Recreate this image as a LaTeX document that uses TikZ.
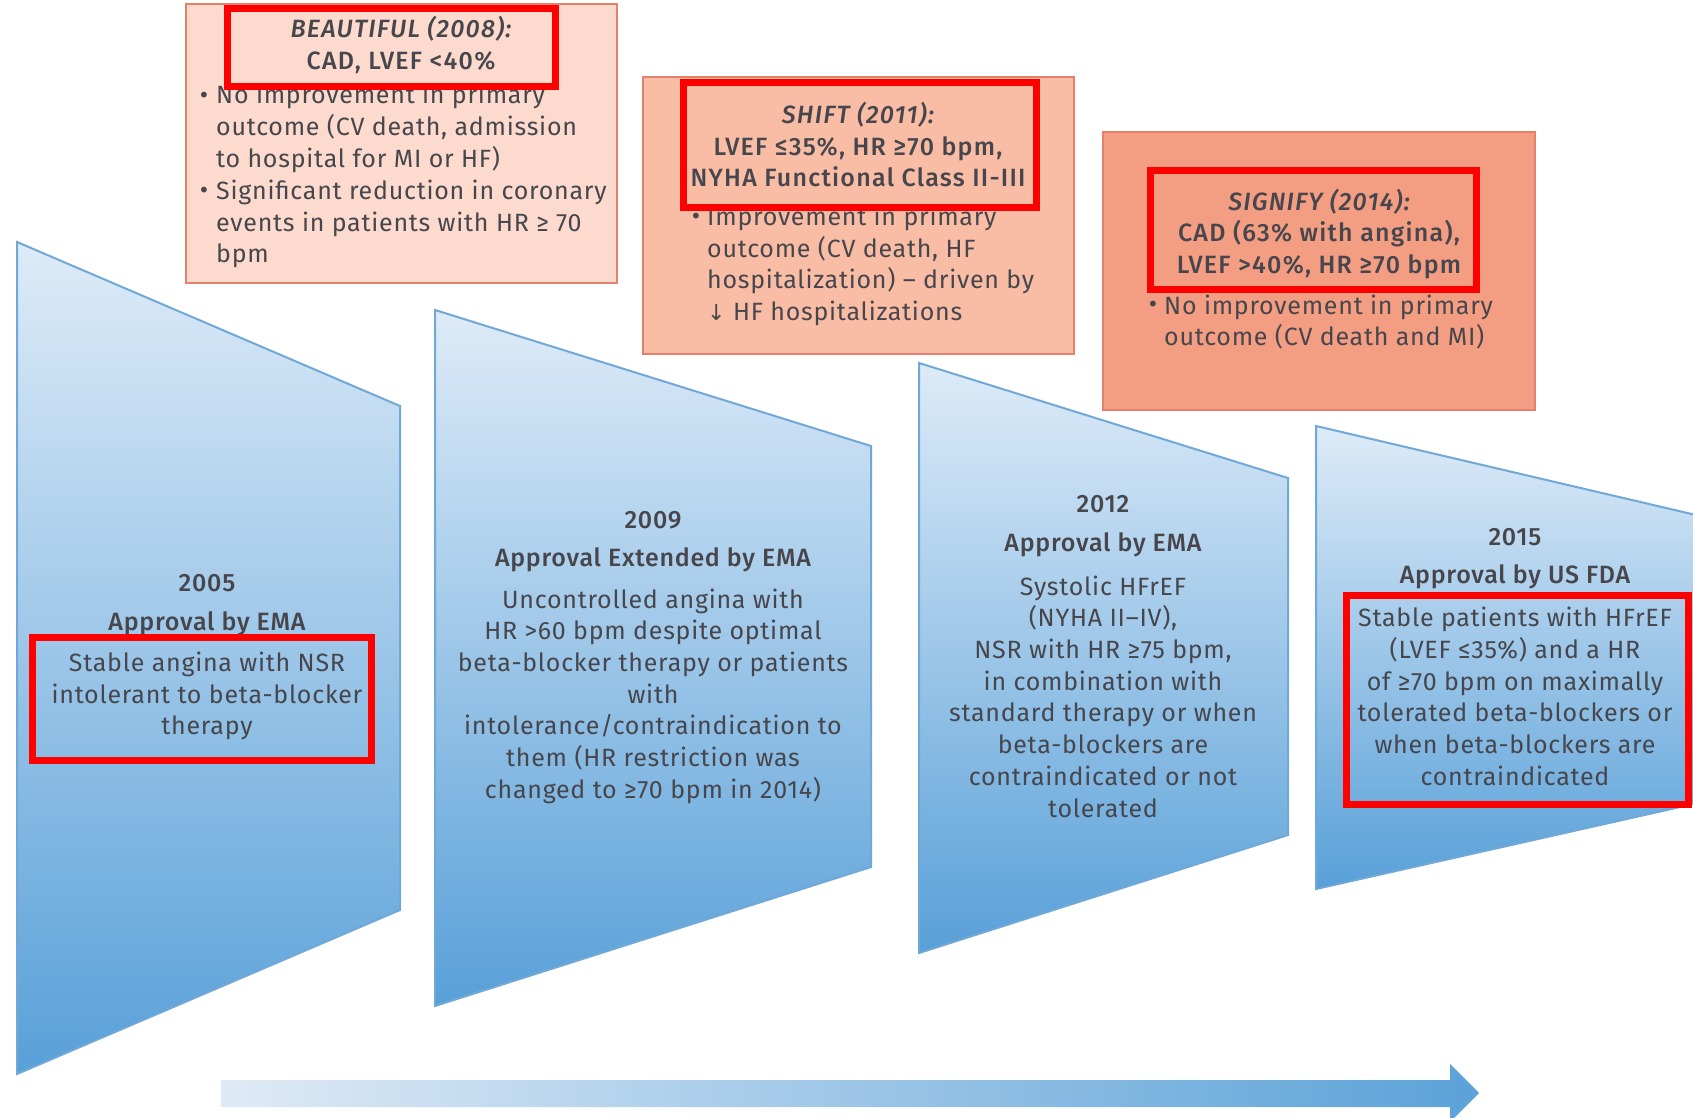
\documentclass[tikz,border=0pt]{standalone}
\usepackage{fontspec}
\setmainfont{Fira Sans}[LetterSpace=3, BoldFont=* Medium, ItalicFont=* Italic, BoldItalicFont=* Medium Italic]
\newfontfamily\titlefont{Fira Sans}[LetterSpace=5, UprightFont=* Medium, ItalicFont=* Medium Italic]
\newfontfamily\dejavu{DejaVu Sans}
\definecolor{txtgray}{RGB}{70,70,76}
\definecolor{trtop}{RGB}{222,235,248}
\definecolor{trmid}{RGB}{182,209,237}
\definecolor{trbot}{RGB}{88,160,216}
\definecolor{trline}{RGB}{112,168,216}
\definecolor{boxline}{RGB}{228,128,108}
\definecolor{fillA}{RGB}{252,219,206}
\definecolor{fillB}{RGB}{249,189,166}
\definecolor{fillC}{RGB}{243,157,130}
\definecolor{arrL}{RGB}{223,234,246}
\definecolor{arrR}{RGB}{91,162,216}
\newcommand{\bul}{{\dejavu\fontsize{20}{31.7}\selectfont •}}
\begin{document}
\begin{tikzpicture}[x=1pt,y=-1pt,
  trap/.style={top color=trtop, middle color=trmid, bottom color=trbot, draw=trline, line width=2pt},
  trialbox/.style={draw=boxline, line width=2pt},
  redbox/.style={draw=red, line width=7pt},
  txt/.style={font=\fontsize{25}{31.7}\selectfont, text=txtgray, inner sep=0pt, align=center},
  lefttxt/.style={txt, align=left, anchor=west},
  headtxt/.style={font=\fontsize{25}{31.7}\selectfont\bfseries, text=txtgray, inner sep=0pt, align=center},
  titletxt/.style={font=\fontsize{25}{31.5}\selectfont\titlefont, text=txtgray, inner sep=0pt, align=center}]
\useasboundingbox (0,0) rectangle (1693,1117);
\clip (0,0) rectangle (1693,1117);
\fill[white] (0,0) rectangle (1693,1117);

% trapezoids
\shade[trap] (17,242) -- (400,406) -- (400,910) -- (17,1074) -- cycle;
\shade[trap] (435,310) -- (871,446) -- (871,867) -- (435,1006) -- cycle;
\shade[trap] (919,363) -- (1288,478) -- (1288,835) -- (919,953) -- cycle;
\shade[trap] (1316,426) -- (1760,530) -- (1760,789) -- (1316,889) -- cycle;

% timeline arrow
\shade[left color=arrL, right color=arrR] (221,1080) -- (1450,1080) -- (1450,1064) -- (1479,1093) -- (1450,1122) -- (1450,1107) -- (221,1107) -- cycle;

% trial boxes
\filldraw[trialbox, fill=fillA] (186,4) rectangle (617,283);
\filldraw[trialbox, fill=fillB] (643,77) rectangle (1074,354);
\filldraw[trialbox, fill=fillC] (1103,132) rectangle (1535,410);

% BEAUTIFUL
\node[titletxt] (bt) at (401,45) {\itshape BEAUTIFUL (2008):\\CAD, LVEF <40\%};
\node[txt] (bb1) at (204,97) {\bul};
\node[lefttxt] (bx1) at (216,128.5) {No improvement in primary\\outcome (CV death, admission\\to hospital for MI or HF)};
\node[txt] (bb2) at (204,192) {\bul};
\node[lefttxt] (bx2) at (216,224) {Significant reduction in coronary\\events in patients with HR ≥ 70\\bpm};

% SHIFT
\node[titletxt] (st) at (858,145) {\itshape SHIFT (2011):\\LVEF ≤35\%, HR ≥70 bpm,\\NYHA Functional Class II-III};
\node[txt] (sb1) at (696,218) {\bul};
\node[lefttxt] (sx1) at (707,266) {Improvement in primary\\outcome (CV death, HF\\hospitalization) – driven by\\{\dejavu\fontsize{22}{31.7}\selectfont ↓} HF hospitalizations};

% SIGNIFY
\node[titletxt] (gt) at (1319,234) {\itshape SIGNIFY (2014):\\CAD (63\% with angina),\\LVEF >40\%, HR ≥70 bpm};
\node[txt] (gb1) at (1153,306) {\bul};
\node[lefttxt] (gx1) at (1164,322) {No improvement in primary\\outcome (CV death and MI)};

% 2005
\node[headtxt] (y1) at (207,583) {2005};
\node[headtxt] (a1) at (207,624) {Approval by EMA};
\node[txt] (d1) at (207,696) {Stable angina with NSR\\intolerant to beta-blocker\\therapy};

% 2009
\node[headtxt] (y2) at (653,520) {2009};
\node[headtxt] (a2) at (653,560) {Approval Extended by EMA};
\node[txt] (d2) at (653,696) {Uncontrolled angina with\\HR >60 bpm despite optimal\\beta-blocker therapy or patients\\with\\intolerance/contraindication to\\them (HR restriction was\\changed to ≥70 bpm in 2014)};

% 2012
\node[headtxt] (y3) at (1103,504) {2012};
\node[headtxt] (a3) at (1103,545) {Approval by EMA};
\node[txt] (d3) at (1103,696.5) {Systolic HFrEF\\(NYHA II–IV),\\NSR with HR ≥75 bpm,\\in combination with\\standard therapy or when\\beta-blockers are\\contraindicated or not\\tolerated};

% 2015
\node[headtxt] (y4) at (1515,537) {2015};
\node[headtxt] (a4) at (1515,577) {Approval by US FDA};
\node[txt] (d4) at (1515,696.5) {Stable patients with HFrEF\\(LVEF ≤35\%) and a HR\\of ≥70 bpm on maximally\\tolerated beta-blockers or\\when beta-blockers are\\contraindicated};

% red highlight boxes
\draw[redbox] (227,8) rectangle (555,86);
\draw[redbox] (683,82) rectangle (1036,207);
\draw[redbox] (1150,170) rectangle (1476,289);
\draw[redbox] (32,637) rectangle (371,760);
\draw[redbox] (1346,595) rectangle (1688,804);
\end{tikzpicture}
\end{document}
